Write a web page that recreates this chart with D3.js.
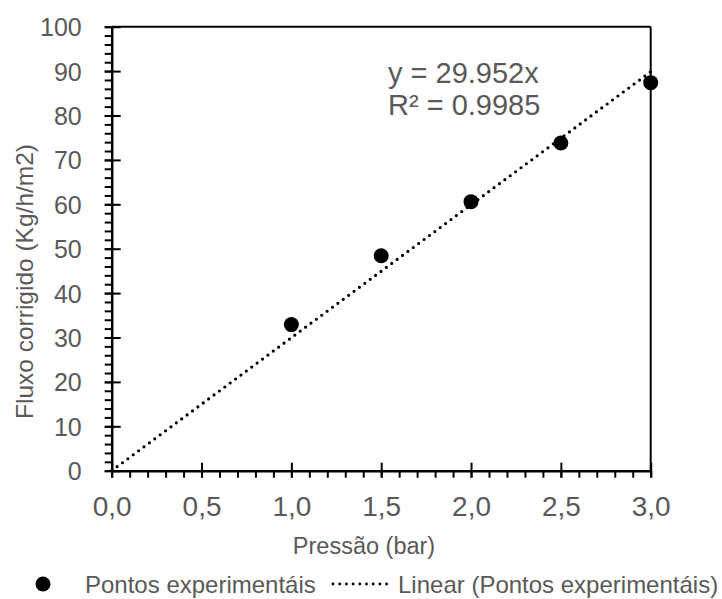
<!DOCTYPE html>
<html>
<head>
<meta charset="utf-8">
<script src="https://cdn.jsdelivr.net/npm/d3@7"></script>
<style>
  html, body { margin: 0; padding: 0; background: #fff; }
  svg text { font-family: "Liberation Sans", Arial, sans-serif; fill: #595959; }
</style>
</head>
<body>
<svg id="chart" width="722" height="599"></svg>
<script>
// Measured flux vs. applied pressure
const pressao = [1.0, 1.5, 2.0, 2.5, 3.0];
const fluxo = [32.9, 48.4, 60.6, 73.8, 87.4];

// Linear fit through the origin
const slope = 29.952;
const r2 = 0.9985;
const equationLines = ["y = 29.952x", "R\u00B2 = 0.9985"];

const xTicks = [0, 0.5, 1.0, 1.5, 2.0, 2.5, 3.0];
const yTicks = [0, 10, 20, 30, 40, 50, 60, 70, 80, 90, 100];
const xMinorTicks = d3.range(0, 3.0001, 0.1);
const yMinorTicks = d3.range(0, 100.0001, 2);

const xTitle = "Pressão (bar)";
const yTitle = "Fluxo corrigido (Kg/h/m2)";
const legendPoints = "Pontos experimentáis";
const legendLine = "Linear (Pontos experimentáis)";

const svg = d3.select("#chart");
const plot = { left: 111.7, right: 650.7, top: 26.7, bottom: 470.7 };

const x = d3.scaleLinear().domain([0, 3]).range([plot.left, plot.right]);
const y = d3.scaleLinear().domain([0, 100]).range([plot.bottom, plot.top]);

const fmtX = d => d3.format(".1f")(d).replace(".", ",");

// Frame: top and right border
svg.append("line").attr("x1", plot.left).attr("x2", plot.right)
  .attr("y1", plot.top).attr("y2", plot.top)
  .attr("stroke", "#000").attr("stroke-width", 2);
svg.append("line").attr("x1", plot.right).attr("x2", plot.right)
  .attr("y1", plot.top).attr("y2", plot.bottom)
  .attr("stroke", "#000").attr("stroke-width", 2);

// Minor ticks (outside only)
const xMinor = svg.append("g").attr("transform", `translate(0,${plot.bottom})`)
  .call(d3.axisBottom(x).tickValues(xMinorTicks).tickSize(7).tickFormat(""));
const yMinor = svg.append("g").attr("transform", `translate(${plot.left},0)`)
  .call(d3.axisLeft(y).tickValues(yMinorTicks).tickSize(7).tickFormat(""));
[xMinor, yMinor].forEach(g => {
  g.select(".domain").remove();
  g.selectAll(".tick line").attr("stroke", "#000").attr("stroke-width", 2);
});

// Major ticks crossing the axis, with labels
const xAxis = svg.append("g").attr("transform", `translate(0,${plot.bottom})`)
  .call(d3.axisBottom(x).tickValues(xTicks).tickSizeInner(-8).tickSizeOuter(0).tickPadding(0).tickFormat(fmtX));
xAxis.selectAll(".tick line").attr("y1", 7).attr("y2", -8);
xAxis.selectAll(".tick text").attr("y", 45.5).attr("dy", 0)
  .style("font-size", "28px").style("fill", "#595959");

const yAxis = svg.append("g").attr("transform", `translate(${plot.left},0)`)
  .call(d3.axisLeft(y).tickValues(yTicks).tickSizeInner(-9).tickSizeOuter(0).tickPadding(0).tickFormat(d3.format("d")));
yAxis.selectAll(".tick line").attr("x1", -7).attr("x2", 9);
yAxis.selectAll(".tick text").attr("x", -30).attr("dy", "0.36em")
  .style("font-size", "25px").style("fill", "#595959");

[xAxis, yAxis].forEach(g => {
  g.select(".domain").attr("stroke", "#000").attr("stroke-width", 2.5);
  g.selectAll(".tick line").attr("stroke", "#000").attr("stroke-width", 2);
});

// Trendline
const trend = [0, 3].map(p => [p, slope * p]);
svg.append("path")
  .datum(trend)
  .attr("d", d3.line().x(d => x(d[0])).y(d => y(d[1])))
  .attr("fill", "none").attr("stroke", "#000").attr("stroke-width", 3.2)
  .attr("stroke-linecap", "round").attr("stroke-dasharray", "0 6.7")
  .attr("stroke-dashoffset", -6.7);

// Data points
svg.append("g").selectAll("circle")
  .data(pressao.map((p, i) => [p, fluxo[i]]))
  .join("circle")
  .attr("cx", d => x(d[0])).attr("cy", d => y(d[1]))
  .attr("r", 7.5).attr("fill", "#000");

// Equation
svg.append("text").attr("x", 388).attr("y", 83)
  .style("font-size", "29px")
  .selectAll("tspan").data(equationLines).join("tspan")
  .attr("x", 388).attr("dy", (d, i) => i === 0 ? 0 : 31.5)
  .text(d => d);

// Axis titles
svg.append("text").attr("x", 364).attr("y", 554)
  .attr("text-anchor", "middle").style("font-size", "23.5px").text(xTitle);
svg.append("text")
  .attr("transform", "translate(33,281.5) rotate(-90)")
  .attr("text-anchor", "middle").style("font-size", "24.5px").text(yTitle);

// Legend
const legendY = 584;
svg.append("circle").attr("cx", 43).attr("cy", legendY).attr("r", 7.5).attr("fill", "#000");
svg.append("text").attr("x", 85).attr("y", 592.5)
  .style("font-size", "24px").text(legendPoints);
svg.append("line")
  .attr("x1", 333).attr("x2", 393).attr("y1", legendY).attr("y2", legendY)
  .attr("stroke", "#000").attr("stroke-width", 2.8)
  .attr("stroke-linecap", "round").attr("stroke-dasharray", "0 6.7");
svg.append("text").attr("x", 398).attr("y", 592.5)
  .style("font-size", "24px").text(legendLine);
</script>
</body>
</html>
